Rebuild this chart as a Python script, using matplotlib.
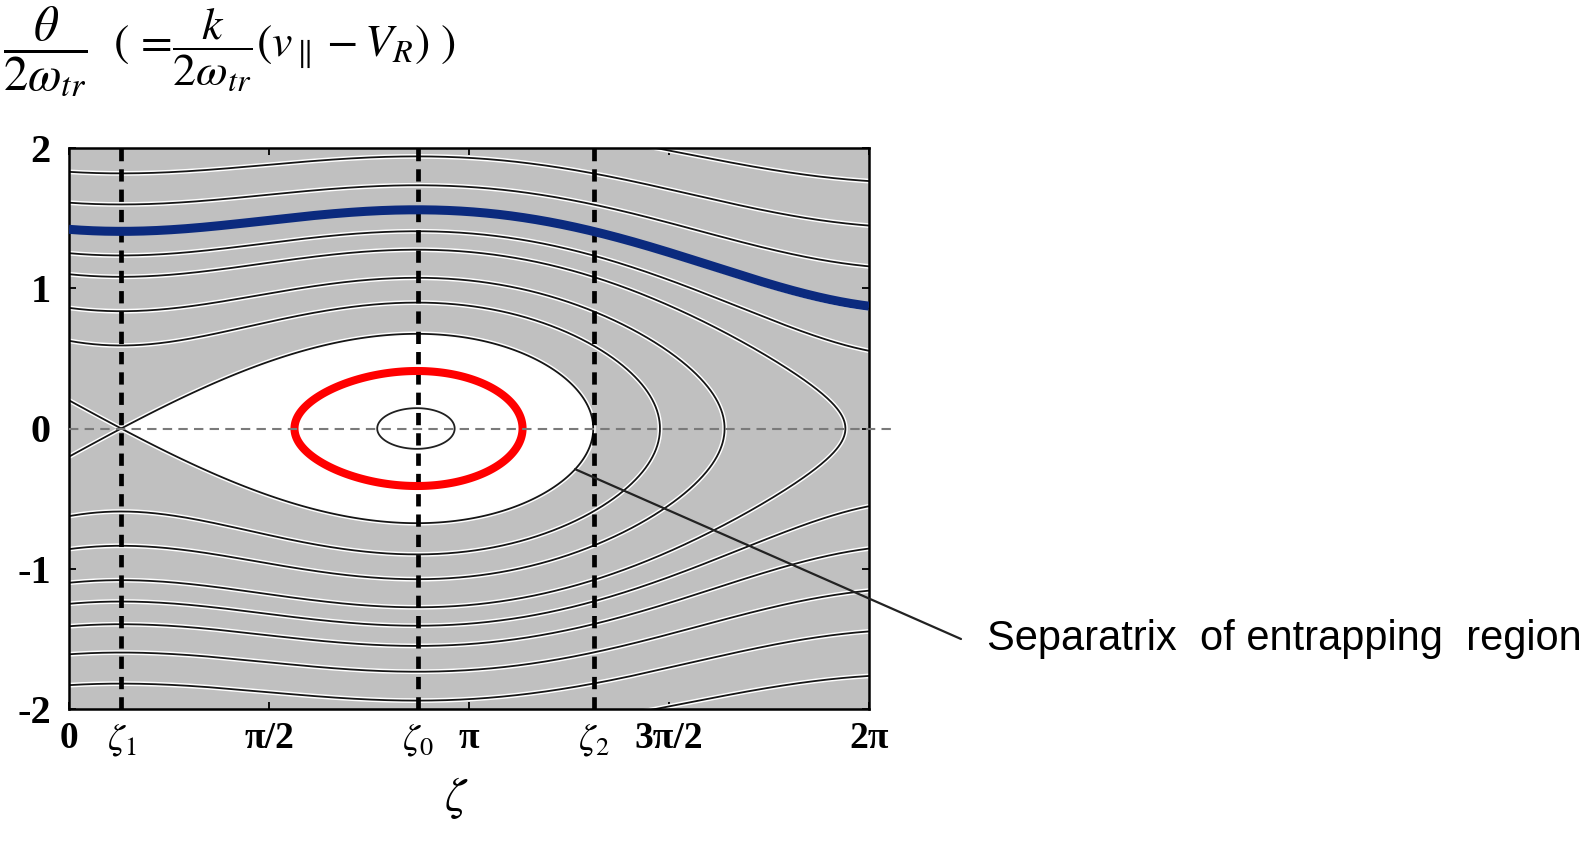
import numpy as np
import matplotlib.pyplot as plt
import matplotlib.patheffects as pe

plt.rcParams['mathtext.fontset'] = 'stix'
plt.rcParams['axes.unicode_minus'] = False

# positions of the dashed markers (rad)
zeta1 = 0.41   # X-point of the separatrix
zeta0 = 2.74   # O-point (centre of the trapped region)
zeta2 = 4.12   # right turning point of the separatrix
sep_half_height = 0.675   # separatrix height above zeta0

x_ticks = [0, zeta1, np.pi / 2, zeta0, np.pi, zeta2, 3 * np.pi / 2, 2 * np.pi]
x_labels = ['0', r'$\zeta_1$', 'π/2', r'$\zeta_0$', 'π', r'$\zeta_2$', '3π/2', '2π']
y_ticks = [-2, -1, 0, 1, 2]
y_labels = ['-2', '-1', '0', '1', '2']

# grey orbits: theta where each one crosses zeta = 0 (upper and lower branch)
orbit_theta_at_0 = [0.625, 0.86, 1.10, 1.25, 1.41, 1.61, 1.83, 2.09]
blue_theta_at_0 = 1.42      # highlighted passing orbit
red_theta_at_zeta0 = 0.41   # highlighted trapped orbit
inner_theta_at_zeta0 = 0.145

# tilted pendulum potential fitted to the marker positions
s = np.sin(zeta1)
def V_shape(z):
    return np.cos(z) + s * z
A = sep_half_height**2 / (V_shape(zeta1) - V_shape(np.pi - zeta1))
def V(z):
    return A * V_shape(z)
def H(z, th):
    return th**2 + V(z)

zz = np.linspace(0, 2 * np.pi, 1400)
tt = np.linspace(-2.3, 2.3, 1200)
Z, TH = np.meshgrid(zz, tt)
HH = H(Z, TH)

H_sep = V(zeta1)
H_red = red_theta_at_zeta0**2 + V(zeta0)
H_inner = inner_theta_at_zeta0**2 + V(zeta0)
H_blue = blue_theta_at_0**2 + V(0)
line_levels = sorted([t**2 + V(0) for t in orbit_theta_at_0] + [H_sep])

fig = plt.figure(figsize=(15.95, 8.44), dpi=100)
ax = fig.add_axes([69 / 1595, 1 - 709 / 844, 800 / 1595, 561 / 844])
ax.set_facecolor('#c0c0c0')

# white trapped region inside the separatrix
inside = np.where(Z >= zeta1, HH, np.nan)
ax.contourf(Z, TH, inside, levels=[np.nanmin(inside) - 1, H_sep], colors='white', zorder=1)

halo = [pe.Stroke(linewidth=3.4, foreground='white'), pe.Normal()]
cs = ax.contour(Z, TH, HH, levels=line_levels, colors='#151515',
                linewidths=1.3, zorder=2)
cs.set_path_effects(halo)
ax.contour(Z, TH, HH, levels=[H_inner], colors='#202020', linewidths=1.3, zorder=2)

for zv in [zeta1, zeta0, zeta2]:
    ax.axvline(zv, color='black', lw=3.4, dashes=(2.6, 1.7), zorder=3)

ax.contour(Z, TH, HH, levels=[H_red], colors='#ff0000', linewidths=5.8, zorder=4)
ax.plot(zz, np.sqrt(H_blue - V(zz)), color='#0b2a7e', lw=6.5, zorder=4,
        solid_capstyle='butt')

ax.plot([0, 2 * np.pi + 0.2], [0, 0], color='#7a7a7a', lw=1.5, dashes=(4.5, 3),
        zorder=5, clip_on=False)

ax.set_xlim(0, 2 * np.pi)
ax.set_ylim(-2, 2)
ax.set_xticks(x_ticks)
ax.set_xticklabels(x_labels)
ax.set_yticks(y_ticks)
ax.set_yticklabels(y_labels)
for lab in ax.get_xticklabels():
    lab.set_fontfamily('Liberation Serif')
    lab.set_fontsize(27)
    lab.set_fontweight('bold')
for lab in ax.get_yticklabels():
    lab.set_fontfamily('Liberation Serif')
    lab.set_fontsize(29)
    lab.set_fontweight('bold')
ax.tick_params(direction='in', length=5, width=1.3, top=True, right=True)
ax.tick_params(axis='y', pad=13)
ax.tick_params(axis='x', pad=9)
for sp in ax.spines.values():
    sp.set_linewidth(1.8)

fig.text(456 / 1595, 1 - 798 / 844, r'$\zeta$', fontsize=34, ha='center', va='center')

# y label, drawn in two parts at the top left
fig.text(3 / 1595, 1 - 52 / 844, r'$\dfrac{\theta}{2\omega_{tr}}$',
         fontsize=35, ha='left', va='center')
fig.text(113 / 1595, 1 - 50 / 844,
         r'$(\,=\!\dfrac{k}{2\omega_{tr}}(v_{\parallel}-V_R)\ )$',
         fontsize=33, ha='left', va='center')

ax.annotate('', xy=(3.975, -0.29), xytext=(961 / 1595, 1 - 639 / 844),
            textcoords='figure fraction',
            arrowprops=dict(arrowstyle='-', lw=1.6, color='#222222', shrinkA=0, shrinkB=0))
fig.text(987 / 1595, 1 - 639 / 844, 'Separatrix  of entrapping  region',
         fontfamily='Liberation Sans', fontsize=30, ha='left', va='center')

fig.savefig('out.png', dpi=100)
